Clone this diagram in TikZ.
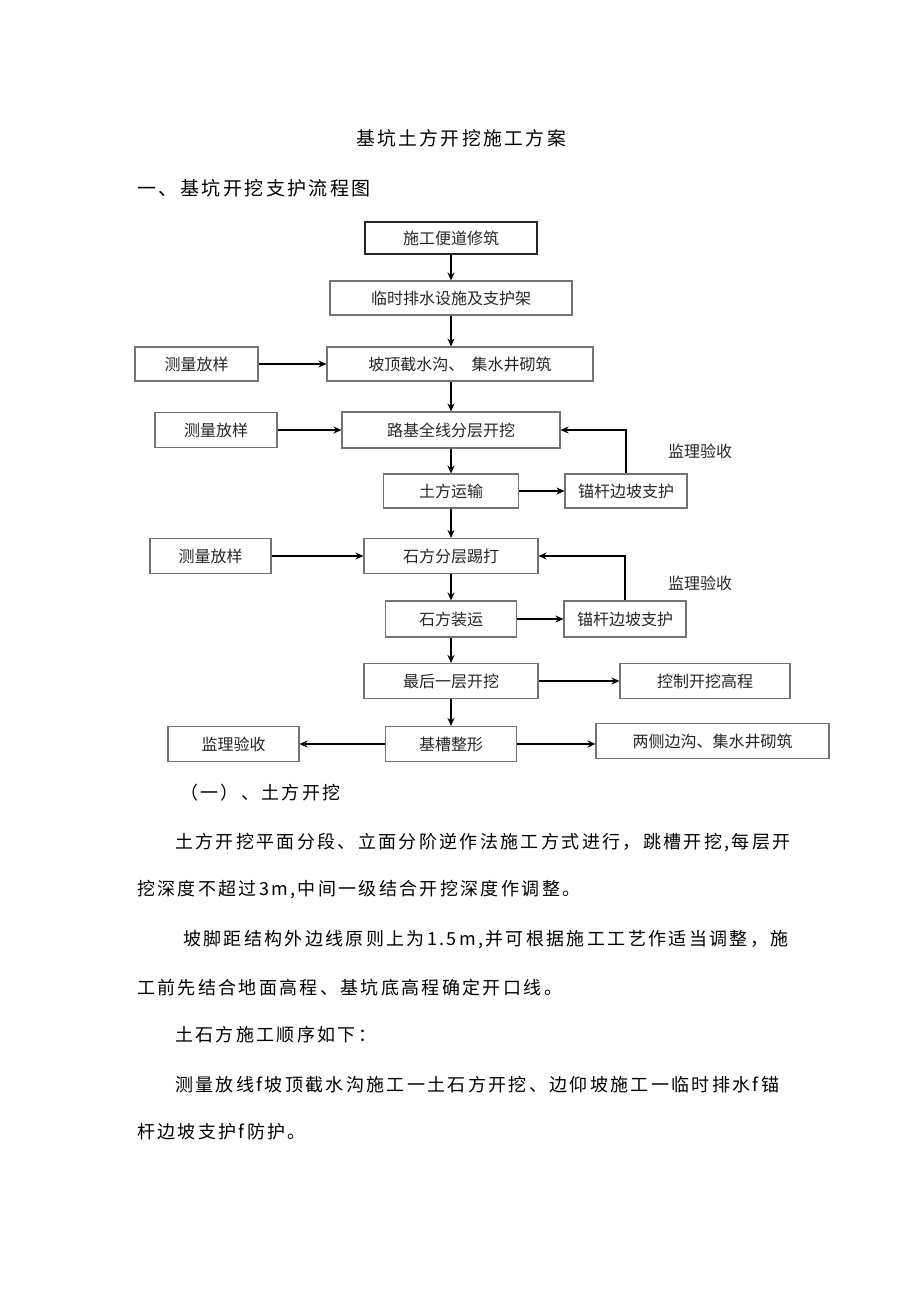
\documentclass[tikz,border=0pt]{standalone}
\usepackage{fontspec}
\setmainfont{Noto Sans CJK SC}
\newfontfamily\cjkwide[LetterSpace=13]{Noto Sans CJK SC}
\usepackage{tikz}
\usetikzlibrary{positioning,arrows.meta}
\usepackage{xcolor}

\begin{document}
\begin{tikzpicture}[x=1pt, y=-1pt,
    box/.style={draw=black!55, line width=1.1pt, align=center, inner sep=0pt, font=\fontsize{16}{19}\selectfont, text=black!85},
    topbox/.style={box, draw=black!85, line width=1.8pt},
    note/.style={font=\fontsize{16}{19}\selectfont, text=black!85},
    body/.style={anchor=west, inner sep=0pt, font=\cjkwide\fontsize{18}{21}\selectfont},
    arr/.style={-{Stealth[length=8pt,width=7pt]}, line width=1.8pt}]
  \useasboundingbox (0,0) rectangle (920,1301);
  % 标题
  \node[font=\cjkwide\fontsize{18.8}{22}\selectfont] (title) at (461,138) {基坑土方开挖施工方案};
  \node[body, font=\cjkwide\fontsize{19}{22}\selectfont] (head) at (137,188) {一、基坑开挖支护流程图};
  % 主线
  \node[topbox, minimum width=172, minimum height=32] (b1) at (451,238) {施工便道修筑};
  \node[box, minimum width=242, minimum height=34] (b2) at (451,298) {临时排水设施及支护架};
  \node[box, minimum width=266, minimum height=34] (b3) at (460,364) {坡顶截水沟、\ \ 集水井砌筑};
  \node[box, minimum width=218, minimum height=36] (b4) at (451,430) {路基全线分层开挖};
  \node[box, minimum width=135, minimum height=34] (b5) at (451,491) {土方运输};
  \node[box, minimum width=174, minimum height=35] (b6) at (451,556) {石方分层踢打};
  \node[box, minimum width=131, minimum height=36] (b7) at (451,619) {石方装运};
  \node[box, minimum width=174, minimum height=35] (b8) at (451,681) {最后一层开挖};
  \node[box, minimum width=131, minimum height=35] (b9) at (451,744) {基槽整形};
  % 左侧
  \node[box, minimum width=123, minimum height=34] (m1) at (196.5,364) {测量放样};
  \node[box, minimum width=122, minimum height=35] (m2) at (216,430) {测量放样};
  \node[box, minimum width=121, minimum height=35] (m3) at (210.5,556) {测量放样};
  \node[box, minimum width=131, minimum height=35] (j1) at (233.5,744) {监理验收};
  % 右侧
  \node[box, minimum width=122, minimum height=34] (s1) at (626,491) {锚杆边坡支护};
  \node[box, minimum width=122, minimum height=36] (s2) at (625,619) {锚杆边坡支护};
  \node[box, minimum width=170, minimum height=35] (c1) at (705,681) {控制开挖高程};
  \node[box, minimum width=233, minimum height=35] (r1) at (712.5,741) {两侧边沟、集水井砌筑};
  \node[note] (n1) at (700,451) {监理验收};
  \node[note] (n2) at (700,583) {监理验收};
  % 连线
  \draw[arr] (b1) -- (b2);
  \draw[arr] (b2.south) -- (b2.south |- b3.north);
  \draw[arr] (b4.north |- b3.south) -- (b4);
  \draw[arr] (b4) -- (b5);
  \draw[arr] (b5) -- (b6);
  \draw[arr] (b6) -- (b7);
  \draw[arr] (b7) -- (b8);
  \draw[arr] (b8) -- (b9);
  \draw[arr] (m1) -- (b3);
  \draw[arr] (m2) -- (b4);
  \draw[arr] (m3) -- (b6);
  \draw[arr] (b5) -- (s1);
  \draw[arr] (s1.north) |- (b4.east);
  \draw[arr] (b7) -- (s2);
  \draw[arr] (s2.north) |- (b6.east);
  \draw[arr] (b8.east) -- (b8.east -| c1.west);
  \draw[arr] (b9.west) -- (b9.west -| j1.east);
  \draw[arr] (b9.east) -- (b9.east -| r1.west);
  % 正文
  \node[body] (t0) at (180,793) {（一）、土方开挖};
  \node[body] (t1) at (175,843) {土方开挖平面分段、立面分阶逆作法施工方式进行，跳槽开挖,每层开};
  \node[body] (t2) at (137,890) {挖深度不超过3m,中间一级结合开挖深度作调整。};
  \node[body] (t3) at (183,940) {坡脚距结构外边线原则上为1.5m,并可根据施工工艺作适当调整，施};
  \node[body] (t4) at (137,988) {工前先结合地面高程、基坑底高程确定开口线。};
  \node[body] (t5) at (175,1035) {土石方施工顺序如下：};
  \node[body] (t6) at (175,1085) {测量放线f坡顶截水沟施工一土石方开挖、边仰坡施工一临时排水f锚};
  \node[body] (t7) at (137,1132) {杆边坡支护f防护。};
\end{tikzpicture}
\end{document}
